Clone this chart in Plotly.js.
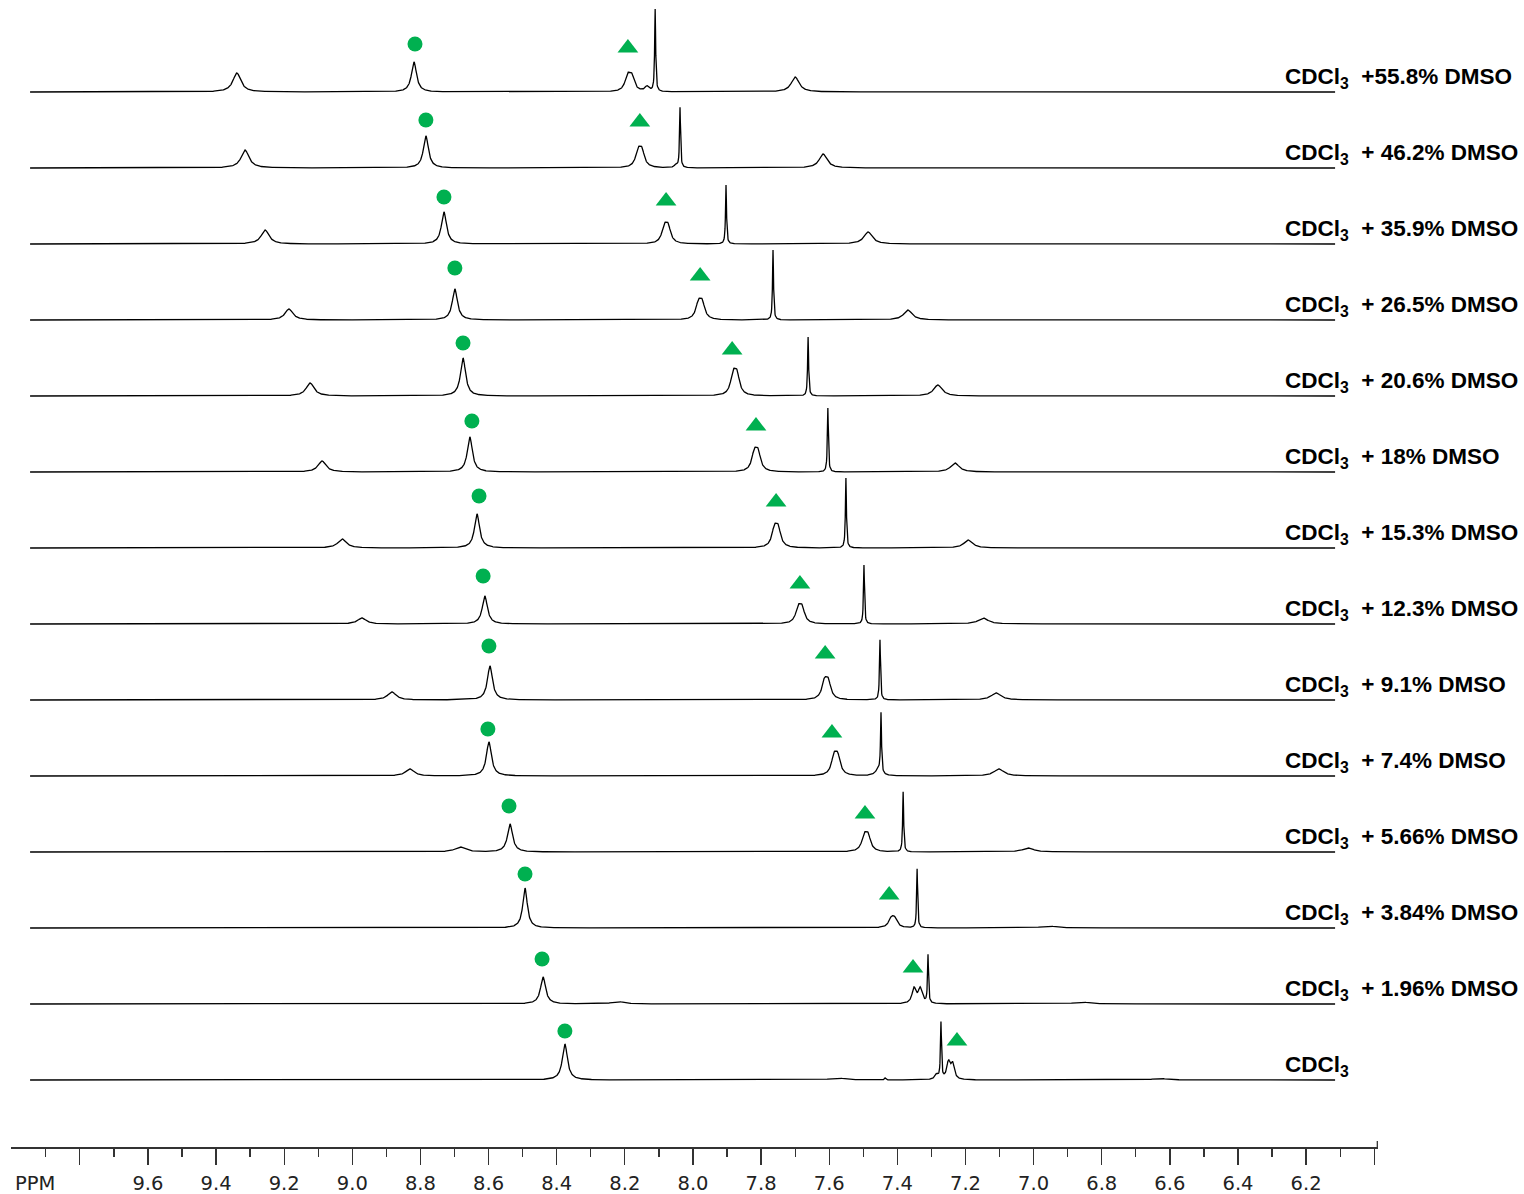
<!DOCTYPE html>
<html>
<head>
<meta charset="utf-8">
<script src="https://cdn.plot.ly/plotly-3.0.1.min.js"></script>
<style>html,body{margin:0;padding:0;background:#fff;}#chart{width:1524px;height:1194px;}</style>
</head>
<body>
<div id="chart"></div>
<script>
// ---- Data ----
const sampleLabels = [
  'CDCl<sub>3</sub>  +55.8% DMSO',
  'CDCl<sub>3</sub>  + 46.2% DMSO',
  'CDCl<sub>3</sub>  + 35.9% DMSO',
  'CDCl<sub>3</sub>  + 26.5% DMSO',
  'CDCl<sub>3</sub>  + 20.6% DMSO',
  'CDCl<sub>3</sub>  + 18% DMSO',
  'CDCl<sub>3</sub>  + 15.3% DMSO',
  'CDCl<sub>3</sub>  + 12.3% DMSO',
  'CDCl<sub>3</sub>  + 9.1% DMSO',
  'CDCl<sub>3</sub>  + 7.4% DMSO',
  'CDCl<sub>3</sub>  + 5.66% DMSO',
  'CDCl<sub>3</sub>  + 3.84% DMSO',
  'CDCl<sub>3</sub>  + 1.96% DMSO',
  'CDCl<sub>3</sub>'
];

// peak shifts (ppm), heights (intensity units) and line widths (ppm, FWHM) per spectrum
const peakShift = [
  [9.339, 8.819, 8.192, 8.180, 8.135, 8.111, 7.700],
  [9.315, 8.784, 8.161, 8.150, 8.050, 8.038, 7.618],
  [9.256, 8.731, 8.084, 8.073, 7.903, 7.486],
  [9.186, 8.699, 7.984, 7.973, 7.765, 7.369],
  [9.124, 8.675, 7.882, 7.871, 7.662, 7.281],
  [9.089, 8.655, 7.820, 7.809, 7.604, 7.231],
  [9.030, 8.634, 7.761, 7.750, 7.551, 7.192],
  [8.972, 8.611, 7.691, 7.680, 7.498, 7.148],
  [8.884, 8.596, 7.614, 7.603, 7.451, 7.110],
  [8.831, 8.599, 7.586, 7.575, 7.456, 7.448, 7.102],
  [8.684, 8.537, 7.497, 7.486, 7.383, 7.016],
  [8.493, 7.418, 7.408, 7.342, 6.955],
  [8.440, 8.220, 7.351, 7.333, 7.310, 6.858],
  [8.376, 7.574, 7.436, 7.285, 7.272, 7.250, 7.238, 6.629]
];
const peakHeight = [
  [19, 30, 14, 14, 5, 82, 15],
  [18, 32, 15, 15, 3, 60, 14],
  [14, 32, 15, 15, 59, 12],
  [11, 31, 15, 15, 70, 10],
  [13, 38, 19, 19, 59, 11],
  [11, 35, 17, 17, 64, 9],
  [9, 34, 17, 17, 70, 8],
  [6, 28, 14, 14, 59, 6],
  [8, 34, 16, 16, 60, 7],
  [7, 34, 17, 17, 6, 60, 7],
  [5, 28, 14, 14, 60, 4],
  [40, 8, 8, 59, 2],
  [27, 2.5, 15, 15, 48, 2],
  [36, 2, 2, 5, 56, 17, 15, 1.5]
];
const peakWidth = [
  [0.028, 0.018, 0.018, 0.018, 0.015, 0.0035, 0.028],
  [0.028, 0.018, 0.018, 0.018, 0.010, 0.0035, 0.028],
  [0.028, 0.018, 0.018, 0.018, 0.0035, 0.030],
  [0.028, 0.018, 0.018, 0.018, 0.0035, 0.030],
  [0.028, 0.018, 0.018, 0.018, 0.0035, 0.030],
  [0.028, 0.018, 0.018, 0.018, 0.0035, 0.030],
  [0.030, 0.018, 0.018, 0.018, 0.0035, 0.030],
  [0.030, 0.018, 0.018, 0.018, 0.0035, 0.035],
  [0.030, 0.018, 0.018, 0.018, 0.0035, 0.035],
  [0.030, 0.018, 0.018, 0.018, 0.020, 0.0035, 0.035],
  [0.035, 0.018, 0.018, 0.018, 0.0035, 0.040],
  [0.016, 0.018, 0.018, 0.0035, 0.050],
  [0.018, 0.040, 0.014, 0.014, 0.0035, 0.050],
  [0.018, 0.050, 0.004, 0.012, 0.0035, 0.012, 0.012, 0.050]
];

// marker positions: circle (●) and triangle (▲) assignments, ppm and height above baseline
const circleShift = [8.816, 8.784, 8.731, 8.699, 8.675, 8.649, 8.628, 8.616, 8.599, 8.602, 8.540, 8.493, 8.443, 8.376];
const circleLevel = [48, 48, 47, 52, 53, 51, 52, 48, 54, 47, 46, 54, 45, 49];
const triangleShift = [8.191, 8.156, 8.079, 7.979, 7.885, 7.815, 7.756, 7.686, 7.612, 7.592, 7.495, 7.424, 7.354, 7.225];
const triangleLevel = [44, 46, 43, 44, 46, 46, 46, 40, 46, 43, 38, 33, 36, 39];

const majorTicks = [9.8, 9.6, 9.4, 9.2, 9.0, 8.8, 8.6, 8.4, 8.2, 8.0, 7.8, 7.6, 7.4, 7.2, 7.0, 6.8, 6.6, 6.4, 6.2, 6.0];
const majorTickText = [' ', '9.6', '9.4', '9.2', '9.0', '8.8', '8.6', '8.4', '8.2', '8.0', '7.8', '7.6', '7.4', '7.2', '7.0', '6.8', '6.6', '6.4', '6.2', ' '];
const minorTicks = [9.9, 9.7, 9.5, 9.3, 9.1, 8.9, 8.7, 8.5, 8.3, 8.1, 7.9, 7.7, 7.5, 7.3, 7.1, 6.9, 6.7, 6.5, 6.3, 6.1];

// ---- Build ----
const specStart = 9.946, specEnd = 6.115, step = 0.001;
const N = sampleLabels.length;
const spacing = 76, bottomBase = 67;
const baseOf = i => bottomBase + (N - 1 - i) * spacing;

const xs = [];
for (let k = 0; ; k++) {
  const v = specStart - k * step;
  if (v < specEnd) break;
  xs.push(+v.toFixed(4));
}

const traces = [];
for (let i = 0; i < N; i++) {
  const b = baseOf(i);
  const ys = xs.map(x => {
    let s = 0;
    for (let p = 0; p < peakShift[i].length; p++) {
      const d = 2 * (x - peakShift[i][p]) / peakWidth[i][p];
      s += peakHeight[i][p] / (1 + d * d);
    }
    return b + s;
  });
  traces.push({
    type: 'scatter', mode: 'lines', x: xs, y: ys,
    line: {color: '#000', width: 1.3}, hoverinfo: 'skip', showlegend: false
  });
}

traces.push({
  type: 'scatter', mode: 'markers',
  x: circleShift, y: circleLevel.map((h, i) => baseOf(i) + h),
  marker: {symbol: 'circle', size: 15, color: '#00b050'},
  hoverinfo: 'skip', showlegend: false
});
traces.push({
  type: 'scatter', mode: 'markers',
  x: triangleShift, y: triangleLevel.map((h, i) => baseOf(i) + h),
  marker: {symbol: 'triangle-up', size: 18, color: '#00b050'},
  hoverinfo: 'skip', showlegend: false
});

const annotations = sampleLabels.map((t, i) => ({
  xref: 'x', yref: 'y', x: 6.268, y: baseOf(i) + 14,
  xanchor: 'left', yanchor: 'middle', showarrow: false,
  text: '<b>' + t + '</b>',
  font: {family: 'Liberation Sans, Arial, sans-serif', size: 22.5, color: '#000'}
}));
annotations.push({
  xref: 'x', yref: 'paper', x: 9.932, y: 0, yshift: -36,
  xanchor: 'center', yanchor: 'middle', showarrow: false, text: 'PPM',
  font: {family: 'DejaVu Sans, Verdana, sans-serif', size: 19.5, color: '#222'}
});

const layout = {
  width: 1524, height: 1194,
  margin: {l: 11, r: 146, t: 0, b: 47},
  paper_bgcolor: '#fff', plot_bgcolor: '#fff',
  showlegend: false,
  xaxis: {
    range: [10.002, 5.989], showgrid: false, zeroline: false,
    showline: true, linecolor: '#333', linewidth: 1.5,
    ticks: 'outside', ticklen: 16, tickwidth: 1.3, tickcolor: '#333',
    tickmode: 'array', tickvals: majorTicks, ticktext: majorTickText,
    ticklabelstandoff: 2,
    tickfont: {family: 'DejaVu Sans, Verdana, sans-serif', size: 19.5, color: '#222'},
    minor: {tickmode: 'array', tickvals: minorTicks, ticks: 'outside', ticklen: 8, tickwidth: 1.3, tickcolor: '#333', showgrid: false},
    fixedrange: true
  },
  yaxis: {range: [0, 1147], visible: false, fixedrange: true},
  annotations: annotations,
  shapes: [{type: 'line', xref: 'x', yref: 'y', x0: 5.991, x1: 5.991, y0: 0, y1: 6, line: {color: '#333', width: 1.3}}]
};

Plotly.newPlot('chart', traces, layout, {staticPlot: true, displayModeBar: false});
</script>
</body>
</html>
